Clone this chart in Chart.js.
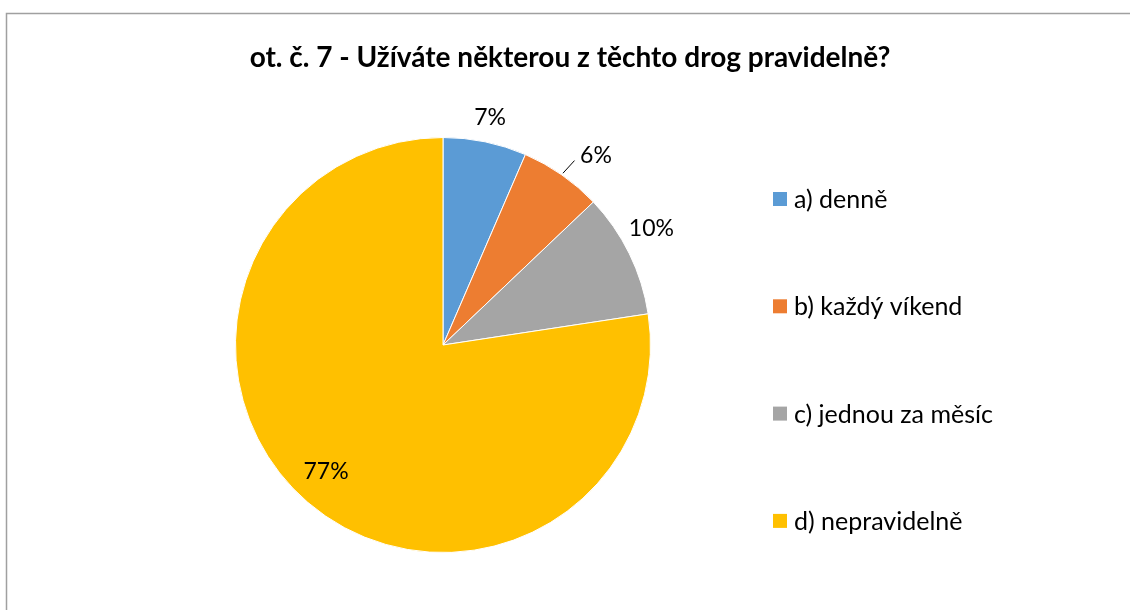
<!DOCTYPE html>
<html><head><meta charset="utf-8">
<script src="https://cdn.jsdelivr.net/npm/chart.js@4.4.0/dist/chart.umd.min.js"></script>
<style>html,body{margin:0;padding:0;background:#fff;}</style>
</head><body>
<canvas id="c" width="1130" height="610"></canvas>
<script>
const titleText = 'ot. č. 7 - Užíváte některou z těchto drog pravidelně?';
const categories = ['a) denně', 'b) každý víkend', 'c) jednou za měsíc', 'd) nepravidelně'];
const shares = [6.5, 6.4, 9.7, 77.4];
const colors = ['#5B9BD5', '#ED7D31', '#A5A5A5', '#FFC000'];

// label placement style (radial offset from rim in px, angle shift in degrees)
const labelStyle = [
  {dr: 25, da: 0, leader: false},
  {dr: 36, da: 4, leader: true},
  {dr: 31, da: -3, leader: false},
  {dr: -35, da: 2, leader: false}
];

const decorPlugin = {
  id: 'decor',
  beforeDraw(chart) {
    const ctx = chart.ctx;
    ctx.save();
    ctx.fillStyle = '#fff';
    ctx.fillRect(0, 0, chart.width, chart.height);
    ctx.strokeStyle = '#A0A0A0';
    ctx.lineWidth = 1.5;
    ctx.beginPath();
    ctx.moveTo(6.5, chart.height + 2);
    ctx.lineTo(6.5, 13.5);
    ctx.lineTo(chart.width + 2, 13.5);
    ctx.stroke();
    ctx.restore();
  },
  afterDraw(chart) {
    const ctx = chart.ctx;
    ctx.save();
    // title
    ctx.fillStyle = '#000';
    ctx.font = 'bold 28px Lato';
    ctx.textAlign = 'center';
    ctx.textBaseline = 'middle';
    ctx.fillText(titleText, 570, 58);

    // data labels
    const meta = chart.getDatasetMeta(0);
    const data = chart.data.datasets[0].data;
    ctx.font = '23px Lato';
    meta.data.forEach((arc, i) => {
      const st = labelStyle[i];
      const mid = (arc.startAngle + arc.endAngle) / 2;
      const a = mid + st.da * Math.PI / 180;
      const d = arc.outerRadius + st.dr;
      const x = arc.x + Math.cos(a) * d;
      const y = arc.y + Math.sin(a) * d;
      if (st.leader) {
        ctx.strokeStyle = '#000';
        ctx.lineWidth = 1;
        ctx.beginPath();
        ctx.moveTo(arc.x + Math.cos(mid) * (arc.outerRadius + 2), arc.y + Math.sin(mid) * (arc.outerRadius + 2));
        ctx.lineTo(arc.x + Math.cos(mid + 0.01) * (arc.outerRadius + 19), arc.y + Math.sin(mid + 0.01) * (arc.outerRadius + 19));
        ctx.stroke();
      }
      ctx.fillStyle = '#000';
      ctx.fillText(Math.round(data[i]) + '%', x, y);
    });

    // legend
    ctx.textAlign = 'left';
    ctx.font = '25px Lato';
    chart.data.labels.forEach((lab, i) => {
      const cy = 199 + i * 107.3;
      ctx.fillStyle = chart.data.datasets[0].backgroundColor[i];
      ctx.fillRect(773, cy - 7, 14, 14);
      ctx.fillStyle = '#000';
      ctx.fillText(lab, 794, cy + 1);
    });
    ctx.restore();
  }
};

new Chart(document.getElementById('c'), {
  type: 'pie',
  data: {
    labels: categories,
    datasets: [{
      data: shares,
      backgroundColor: colors,
      borderColor: '#fff',
      borderWidth: 1
    }]
  },
  options: {
    responsive: false,
    animation: false,
    layout: {padding: {left: 235, right: 479, top: 137, bottom: 57}},
    plugins: {legend: {display: false}, title: {display: false}, tooltip: {enabled: false}}
  },
  plugins: [decorPlugin]
});
</script>
</body></html>
